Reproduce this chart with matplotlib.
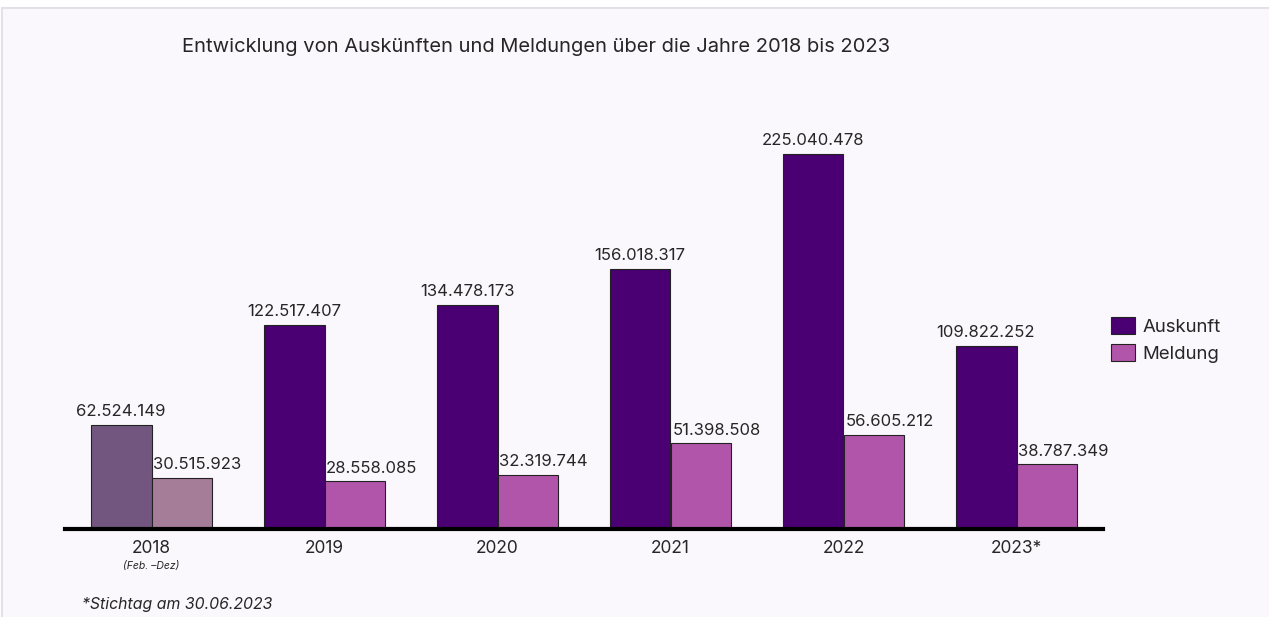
import matplotlib.pyplot as plt
from matplotlib.patches import Rectangle
import numpy as np

plt.rcParams['font.family'] = ['Inter', 'DejaVu Sans']

years = ['2018', '2019', '2020', '2021', '2022', '2023*']
auskunft = [62524149, 122517407, 134478173, 156018317, 225040478, 109822252]
meldung = [30515923, 28558085, 32319744, 51398508, 56605212, 38787349]

col_a = ['#735680'] + ['#4a0072'] * 5
col_m = ['#a67d98'] + ['#b055a9'] * 5
bg = '#faf8fd'
txt = '#262626'


def fmt(v):
    return f'{v:,}'.replace(',', '.')


fig = plt.figure(figsize=(12.69, 6.17), dpi=100)
fig.patch.set_facecolor('white')
# panel background with light border
fig.patches.append(Rectangle((2 / 1269, -0.05), 1.1, 1 - 8 / 617 + 0.05,
                             transform=fig.transFigure, facecolor=bg,
                             edgecolor='#e3e1e7', linewidth=1.5, zorder=-10))

ax = fig.add_axes([65 / 1269, 1 - 529 / 617, 1038 / 1269, 420 / 617])
ax.set_facecolor('none')

x = np.arange(len(years))
w = 0.352
ba = ax.bar(x - w / 2, auskunft, w, color=col_a, edgecolor='#222222', linewidth=0.8)
bm = ax.bar(x + w / 2, meldung, w, color=col_m, edgecolor='#222222', linewidth=0.8)

# Auskunft labels centred, Meldung labels start at bar's left edge
for xi, v in zip(x - w / 2, auskunft):
    ax.text(xi, v + 3.5e6, fmt(v), ha='center', va='bottom', fontsize=12, color=txt)
for xi, v in zip(x, meldung):
    ax.text(xi + 0.01, v + 3.5e6, fmt(v), ha='left', va='bottom', fontsize=12, color=txt)

ax.set_xlim(-0.5, 5.5)
ax.set_ylim(0, 252e6)
ax.set_xticks(x)
ax.set_xticklabels(years, fontsize=12.5, color=txt)
ax.tick_params(axis='x', length=0, pad=8)
ax.set_yticks([])
for s in ['top', 'right', 'left']:
    ax.spines[s].set_visible(False)
ax.spines['bottom'].set_linewidth(3)
ax.spines['bottom'].set_color('black')

ax.text(0, -0.077, '(Feb. –Dez)', transform=ax.get_xaxis_transform(),
        ha='center', va='top', fontsize=7.5, style='italic', color=txt)

fig.text(182 / 1269, 1 - 47 / 617, 'Entwicklung von Auskünften und Meldungen über die Jahre 2018 bis 2023',
         ha='left', va='center', fontsize=14.5, color=txt)
fig.text(82 / 1269, 1 - 604 / 617, '*Stichtag am 30.06.2023', ha='left', va='center',
         fontsize=11.4, style='italic', color=txt)

leg = fig.legend([ba[1], bm[1]], ['Auskunft', 'Meldung'], loc='center left',
                 bbox_to_anchor=(1094 / 1269, 1 - 340 / 617), frameon=False,
                 fontsize=13.4, handlelength=1.3, handleheight=1.0, handletextpad=0.4,
                 labelspacing=0.45)
for t in leg.get_texts():
    t.set_color(txt)

fig.savefig('out.png', dpi=100, facecolor='white')
